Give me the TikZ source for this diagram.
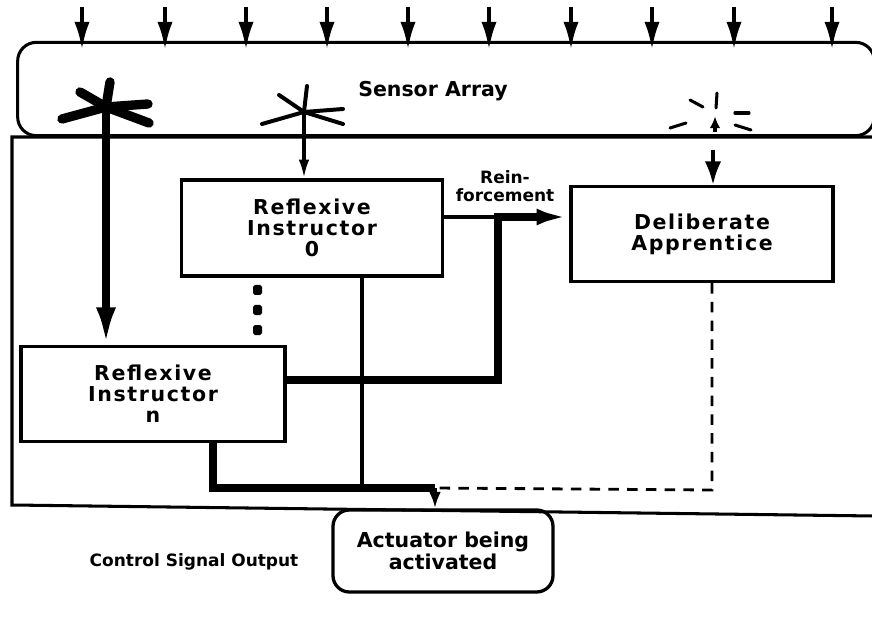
\documentclass[tikz,border=0pt]{standalone}
\usepackage{fontspec}
\newfontfamily\chicfont{DejaVu Sans}[LetterSpace=8]
\newfontfamily\labfont{DejaVu Sans}
\usetikzlibrary{arrows.meta,positioning,calc}

\begin{document}
\begin{tikzpicture}[x=0.03cm,y=-0.03cm,
    unitbox/.style={draw,line width=2.8pt,align=center,inner sep=0pt,
      font=\chicfont\bfseries\fontsize{17.5}{18}\selectfont},
    feed/.style={line width=2.8pt},
    heavy/.style={line width=6pt},
    faint/.style={line width=2.4pt,dash pattern=on 9pt off 7pt},
    ray/.style={line width=#1,line cap=round}]
  \useasboundingbox (0,0) rectangle (872,626);
  % sensor array and the outer frame
  \node[draw,line width=2.6pt,rounded corners=16pt,minimum width=25.7cm,minimum height=2.8cm]
    (sensor) at (446,89) {};
  \node[font=\labfont\bfseries\fontsize{17.5}{18}\selectfont] (sensortxt) at (433,91) {Sensor Array};
  \draw[line width=2.6pt] (874,137) -- (12,137) -- (12,505) -- (874,516);
  % incoming stimuli
  \foreach \xa in {82,165,246,327,408,489,571,652,734,832}{
    \path (\xa,7) coordinate (ray\xa) (\xa,50) coordinate (hit\xa);
    \draw[line width=3.4pt,-{Latex[length=24pt,width=13pt]}] (ray\xa) -- (hit\xa);
  }
  % boxes
  \node[unitbox,minimum width=7.83cm,minimum height=2.88cm] (ri0) at (312,228)
    {Reflexive\\Instructor\\0};
  \node[unitbox,minimum width=7.86cm,minimum height=2.85cm] (da) at (702,234)
    {Deliberate\\Apprentice};
  \node[unitbox,minimum width=7.92cm,minimum height=2.85cm] (rin) at (153,394)
    {Reflexive\\Instructor\\n};
  \node[unitbox,rounded corners=14pt,minimum width=6.6cm,minimum height=2.46cm,
    font=\labfont\bfseries\fontsize{17.5}{19}\selectfont] (act) at (443,551)
    {Actuator being\\activated};
  \node[font=\labfont\bfseries\fontsize{14.5}{15}\selectfont] (ctrl) at (194,562)
    {Control Signal Output};
  \node[align=center,font=\labfont\bfseries\fontsize{14.5}{15}\selectfont] (reinf) at (505,186)
    {Rein-\\forcement};
  % asterisks on the sensor array
  \coordinate (bigstar) at (106,107);
  \coordinate (midstar) at (304,112);
  \coordinate (faintstar) at (715,118);
  \foreach \ex/\ey in {80/92,62/119,148/104,149/123,110/82}
    \draw[ray=8pt] (bigstar) -- (\ex,\ey);
  \foreach \ex/\ey in {307/86,279/95,262/124,343/109,343/124}
    \draw[ray=3.4pt] (midstar) -- (\ex,\ey);
  \foreach \ax/\ay/\bx/\by in {717/93/716/108,690/100/703/107,670/128/686/123,735/113/749/113,735/125/751/130}
    \draw[ray=2.6pt] (\ax,\ay) -- (\bx,\by);
  \draw[feed,-{Latex[length=10pt,width=9pt]}] ([yshift=-0.42cm]faintstar) -- ([yshift=0.05cm]faintstar);
  % sensor lines to the instructors
  \draw[heavy,-{Latex[length=32pt,width=17pt]}] (bigstar) -- (bigstar |- rin.north);
  \draw[feed,-{Latex[length=16pt,width=9pt]}] (midstar) -- (midstar |- ri0.north);
  \coordinate (dain) at (713,150);
  \draw[feed,-{Latex[length=20pt,width=14pt]}] (dain) -- (dain |- da.north);
  % more instructors in between
  \foreach \yd in {290,310,330}
    \fill[rounded corners=1.5pt] (253,{\yd-5}) rectangle (262,{\yd+5});
  % reinforcement into the apprentice
  \coordinate (rjoin) at (498,217);
  \draw[feed] (ri0.east |- rjoin) -- (rjoin);
  \draw[heavy,-{Latex[length=28pt,width=14pt]}] ([xshift=-3pt]rjoin) -- (rjoin -| da.west);
  \coordinate (rnout) at (285,380);
  \draw[heavy] (rin.east |- rnout) -| (rjoin);
  % control signal bus
  \coordinate (bus) at (435,488);
  \coordinate (busmid) at (362,488);
  \coordinate (rndown) at (213,441);
  \draw[feed] (ri0.south -| busmid) -- (busmid);
  \draw[heavy] (rin.south -| rndown) |- (bus);
  \coordinate (dabot) at (712,490);
  \draw[faint] (da.south -| dabot) -- (dabot) -- (bus);
  \draw[feed,dash pattern=on 3pt off 3pt,-{Latex[length=14pt,width=10pt]}] (bus) -- (act.north -| bus);
\end{tikzpicture}
\end{document}
